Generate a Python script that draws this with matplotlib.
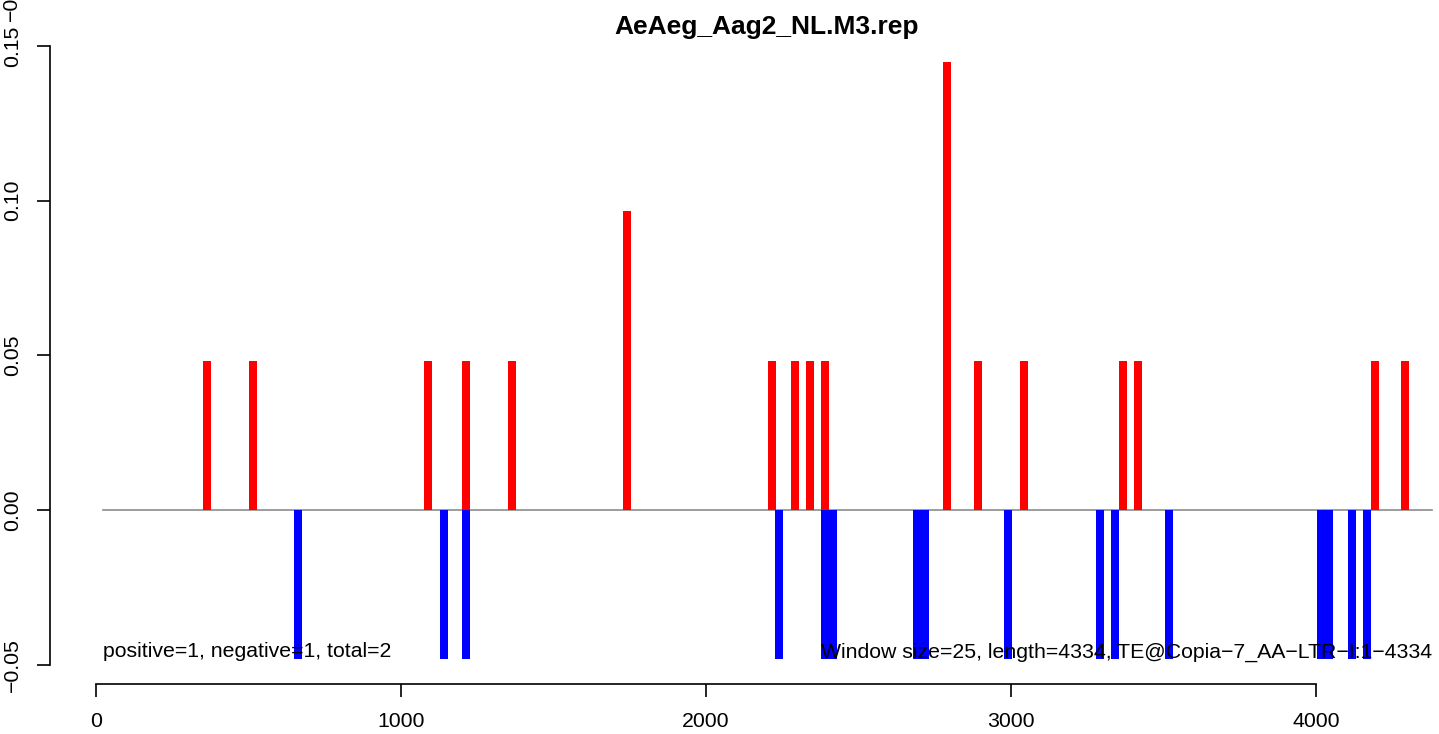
import matplotlib
matplotlib.use('Agg')
import matplotlib.pyplot as plt

# window centres (bp) and scores
pos_x = [364, 515, 1089, 1213, 1364, 1741, 2216, 2292, 2341, 2390,
         2790, 2892, 3043, 3367, 3416, 4193, 4292]
pos_y = [0.0483, 0.0483, 0.0483, 0.0483, 0.0483, 0.0966, 0.0483, 0.0483, 0.0483, 0.0483,
         0.1449, 0.0483, 0.0483, 0.0483, 0.0483, 0.0483, 0.0483]
neg_x = [662, 1141, 1213, 2239, 2390, 2416, 2692, 2718, 2990, 3292,
         3341, 3518, 4016, 4043, 4118, 4167]
neg_y = [-0.0483] * len(neg_x)

win = 25
seq_start, seq_end = 23, 4380
x_ticks = [0, 1000, 2000, 3000, 4000]
y_ticks = [-0.05, 0.0, 0.05, 0.10, 0.15]
y_labels = ['\u22120.05', '0.00', '0.05', '0.10', '0.15']

title = 'AeAeg_Aag2_NL.M3.rep'
left_note = 'positive=1, negative=1, total=2'
right_note = 'Window size=25, length=4334, TE@Copia\u22127_AA\u2212LTR\u2212I:1\u22124334'

plt.rcParams['font.family'] = ['Liberation Sans', 'DejaVu Sans']
fs = 15.3

W, H = 1439, 734
fig = plt.figure(figsize=(W / 100, H / 100), dpi=100)
# plot region in pixels: x 50..1484 (runs past the right edge), y 38..684
ax = fig.add_axes([50 / W, 1 - 684 / H, (1484 - 50) / W, (684 - 38) / H])
ax.set_xlim(-150.8, 4551)
ax.set_ylim(-0.05626, 0.1526)

ax.plot([seq_start, seq_end], [0, 0], color='#8c8c8c', lw=1.2, zorder=1)
ax.bar(pos_x, pos_y, width=win, color='red', zorder=2)
ax.bar(neg_x, neg_y, width=win, color='blue', zorder=2)

ax.text(seq_start, -0.0459, left_note, ha='left', va='center', fontsize=fs)
ax.text(seq_end, -0.0459, right_note, ha='right', va='center', fontsize=fs)

for s in ['top', 'right']:
    ax.spines[s].set_visible(False)
ax.spines['left'].set_bounds(-0.05, 0.15)
ax.spines['bottom'].set_bounds(0, 4000)
ax.spines['left'].set_linewidth(1.2)
ax.spines['bottom'].set_linewidth(1.2)

ax.set_xticks(x_ticks)
ax.set_xticklabels([str(t) for t in x_ticks])
ax.set_yticks(y_ticks)
ax.set_yticklabels(y_labels, rotation=90, va='center')
ax.tick_params(axis='both', direction='out', length=9.4, width=1.2, labelsize=fs)
ax.tick_params(axis='x', pad=11)
ax.tick_params(axis='y', pad=11)

fig.text(767 / W, 1 - 34 / H, title, ha='center', va='baseline',
         fontsize=19, fontweight='bold')
# stray clipped label at the very top of the left margin
fig.text(11 / W, 1 - 21 / H, '\u22120.05', rotation=90, ha='center', va='bottom',
         fontsize=fs)

fig.savefig('out.png', dpi=100)
